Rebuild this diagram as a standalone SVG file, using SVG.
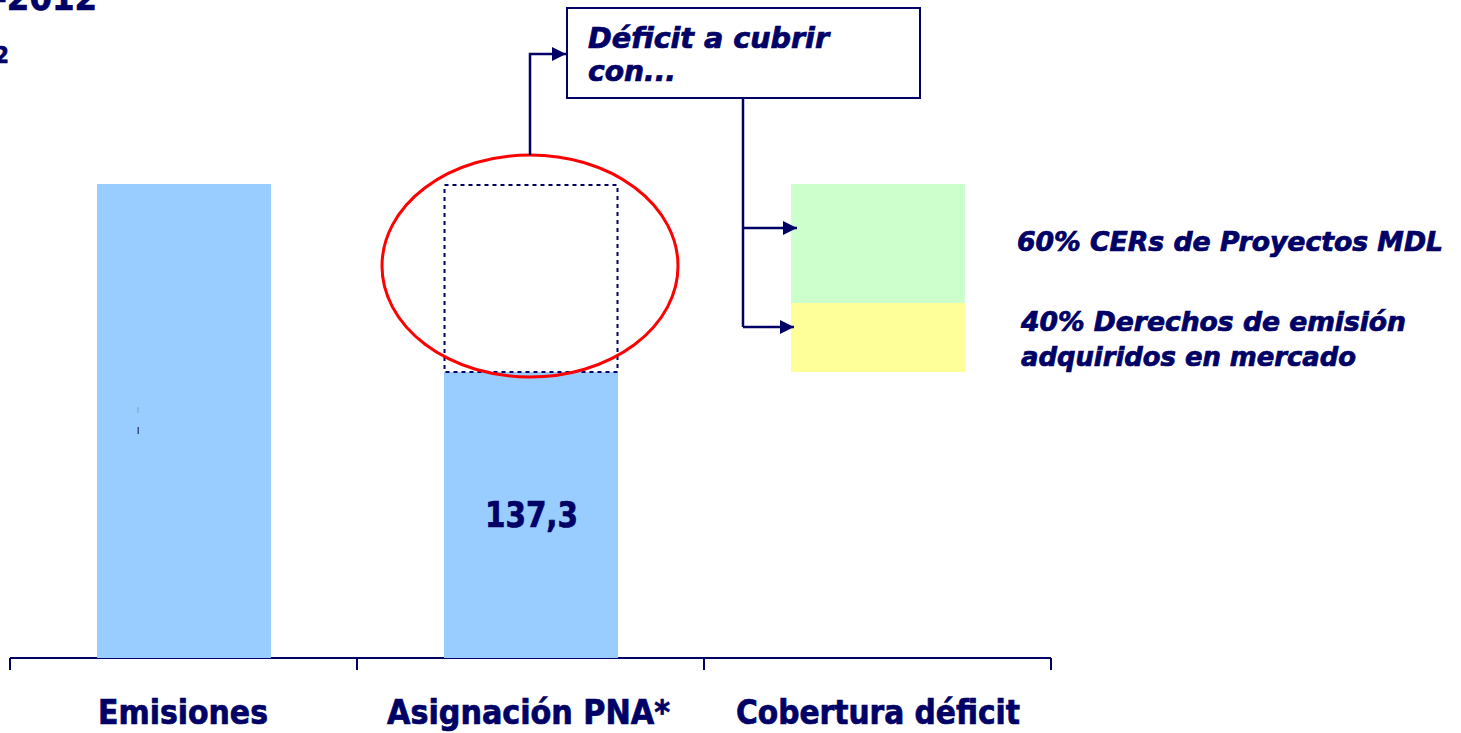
<svg xmlns="http://www.w3.org/2000/svg" width="1461" height="733" viewBox="0 0 1461 733">
<style>
.t{font-family:"DejaVu Sans Condensed","DejaVu Sans","Liberation Sans",sans-serif;font-weight:bold;fill:#000066;stroke:#000066;stroke-width:0.7}
.i{font-style:italic}
.c{stroke:#000066;stroke-width:2.5;fill:none}
</style>
<defs>
<marker id="ah" viewBox="0 0 10 10" refX="10" refY="5" markerWidth="15" markerHeight="14" markerUnits="userSpaceOnUse" orient="auto">
<path d="M0,0 L10,5 L0,10 Z" fill="#000066"/>
</marker>
</defs>
<rect width="1461" height="733" fill="#ffffff"/>
<g id="title">
<text class="t" x="97" y="10" font-size="36" text-anchor="end">-2012</text>
<text class="t" x="9" y="63" font-size="23" text-anchor="end">2</text>
</g>
<g id="axis">
<path d="M10,658 H1051 M10,658 V670 M357,658 V670 M704,658 V670 M1051,658 V670" stroke="#000066" stroke-width="2" fill="none"/>
</g>
<g id="bar-emisiones">
<rect x="97" y="184" width="174" height="474" fill="#99CCFF"/>
<rect x="137.5" y="407" width="1" height="6" fill="#7f9fd0"/>
<rect x="137.5" y="427" width="1.5" height="7" fill="#3a4a9a"/>
</g>
<g id="bar-asignacion">
<rect x="444" y="372" width="174" height="286" fill="#99CCFF"/>
<rect x="444.5" y="185" width="173" height="187" fill="none" stroke="#000066" stroke-width="2" stroke-dasharray="4,4"/>
<text class="t" x="485" y="527" font-size="35" textLength="93" lengthAdjust="spacingAndGlyphs">137,3</text>
</g>
<g id="ellipse">
<ellipse cx="530" cy="266" rx="148" ry="111" fill="none" stroke="#ff0000" stroke-width="3"/>
</g>
<g id="deficit-box">
<rect x="567" y="8" width="353" height="90" fill="#ffffff" stroke="#000066" stroke-width="2"/>
<text class="t i" x="588" y="48" font-size="28" textLength="241" lengthAdjust="spacingAndGlyphs">Déficit a cubrir</text>
<text class="t i" x="588" y="81" font-size="28" textLength="88" lengthAdjust="spacingAndGlyphs">con...</text>
</g>
<g id="cobertura">
<rect x="791" y="184" width="174" height="119" fill="#CCFFCC"/>
<rect x="791" y="303" width="174" height="69" fill="#FFFF99"/>
</g>
<g id="labels-right">
<text class="t i" x="1017" y="251" font-size="26" textLength="426" lengthAdjust="spacingAndGlyphs">60% CERs de Proyectos MDL</text>
<text class="t i" x="1021" y="331" font-size="26" textLength="385" lengthAdjust="spacingAndGlyphs">40% Derechos de emisión</text>
<text class="t i" x="1021" y="366" font-size="26" textLength="335" lengthAdjust="spacingAndGlyphs">adquiridos en mercado</text>
</g>
<g id="connectors">
<path class="c" d="M530,155 V54 H566" marker-end="url(#ah)"/>
<path class="c" d="M743,98 V327"/>
<path class="c" d="M743,228 H797" marker-end="url(#ah)"/>
<path class="c" d="M743,327 H794" marker-end="url(#ah)"/>
</g>
<g id="category-labels">
<text class="t" x="98" y="724" font-size="34" textLength="170" lengthAdjust="spacingAndGlyphs">Emisiones</text>
<text class="t" x="387" y="724" font-size="34" textLength="283" lengthAdjust="spacingAndGlyphs">Asignación PNA*</text>
<text class="t" x="736" y="724" font-size="34" textLength="284" lengthAdjust="spacingAndGlyphs">Cobertura déficit</text>
</g>
</svg>
